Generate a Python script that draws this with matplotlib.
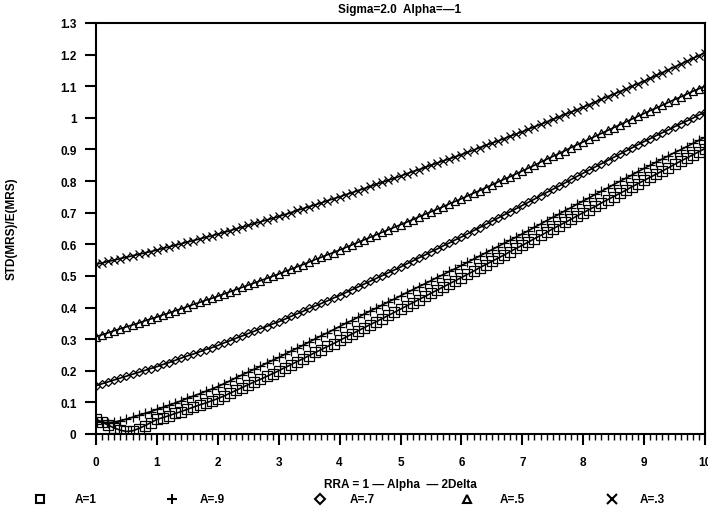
import numpy as np
import matplotlib
matplotlib.use("Agg")
import matplotlib.pyplot as plt
from matplotlib.lines import Line2D
from matplotlib.ticker import MultipleLocator, FuncFormatter

plt.rcParams['font.family'] = ['Liberation Sans', 'DejaVu Sans']

title = "Sigma=2.0  Alpha=\u20141"
xlabel = "RRA = 1 \u2014 Alpha  \u2014 2Delta"
ylabel = "STD(MRS)/E(MRS)"

x = np.round(np.arange(0, 101) * 0.1, 1)

labels = ["A=1", "A=.9", "A=.7", "A=.5", "A=.3"]

a_10 = [0.047, 0.038, 0.028, 0.019, 0.012, 0.008, 0.010, 0.017, 0.026, 0.036,
        0.046, 0.052, 0.058, 0.065, 0.071, 0.078, 0.085, 0.092, 0.098, 0.105,
        0.112, 0.120, 0.129, 0.138, 0.147, 0.156, 0.165, 0.173, 0.182, 0.191,
        0.200, 0.210, 0.219, 0.229, 0.238, 0.248, 0.258, 0.267, 0.277, 0.286,
        0.296, 0.306, 0.316, 0.326, 0.336, 0.346, 0.355, 0.365, 0.375, 0.385,
        0.395, 0.405, 0.415, 0.425, 0.435, 0.445, 0.455, 0.465, 0.475, 0.485,
        0.495, 0.505, 0.515, 0.526, 0.536, 0.546, 0.556, 0.566, 0.577, 0.587,
        0.597, 0.607, 0.618, 0.628, 0.638, 0.649, 0.659, 0.669, 0.679, 0.690,
        0.700, 0.710, 0.720, 0.731, 0.741, 0.751, 0.761, 0.771, 0.782, 0.792,
        0.802, 0.812, 0.822, 0.832, 0.842, 0.853, 0.863, 0.873, 0.883, 0.893, 0.903]

a_09 = [0.040, 0.037, 0.036, 0.038, 0.042, 0.047, 0.053, 0.059, 0.065, 0.071,
        0.078, 0.084, 0.091, 0.098, 0.105, 0.113, 0.120, 0.127, 0.135, 0.142,
        0.150, 0.159, 0.168, 0.178, 0.187, 0.196, 0.205, 0.214, 0.224, 0.233,
        0.242, 0.252, 0.262, 0.271, 0.281, 0.291, 0.301, 0.311, 0.320, 0.330,
        0.340, 0.350, 0.359, 0.369, 0.379, 0.389, 0.398, 0.408, 0.418, 0.427,
        0.437, 0.447, 0.456, 0.466, 0.475, 0.485, 0.495, 0.504, 0.514, 0.523,
        0.533, 0.543, 0.553, 0.563, 0.573, 0.583, 0.593, 0.603, 0.613, 0.623,
        0.633, 0.643, 0.654, 0.664, 0.675, 0.685, 0.695, 0.706, 0.716, 0.727,
        0.737, 0.747, 0.758, 0.768, 0.778, 0.789, 0.799, 0.809, 0.819, 0.830,
        0.840, 0.850, 0.860, 0.870, 0.880, 0.890, 0.899, 0.909, 0.919, 0.929, 0.939]

a_07 = [0.153, 0.159, 0.165, 0.171, 0.177, 0.183, 0.189, 0.195, 0.201, 0.207,
        0.213, 0.220, 0.226, 0.233, 0.240, 0.247, 0.253, 0.260, 0.267, 0.273,
        0.280, 0.288, 0.295, 0.303, 0.310, 0.318, 0.325, 0.333, 0.340, 0.348,
        0.355, 0.363, 0.372, 0.380, 0.388, 0.397, 0.405, 0.413, 0.421, 0.430,
        0.438, 0.447, 0.456, 0.465, 0.474, 0.483, 0.492, 0.501, 0.510, 0.519,
        0.528, 0.538, 0.547, 0.557, 0.566, 0.576, 0.585, 0.595, 0.604, 0.614,
        0.623, 0.633, 0.643, 0.653, 0.663, 0.673, 0.683, 0.693, 0.703, 0.713,
        0.723, 0.733, 0.743, 0.754, 0.764, 0.774, 0.784, 0.794, 0.805, 0.815,
        0.825, 0.835, 0.845, 0.855, 0.865, 0.875, 0.885, 0.895, 0.905, 0.915,
        0.925, 0.934, 0.944, 0.953, 0.962, 0.972, 0.981, 0.990, 0.999, 1.009, 1.018]

a_05 = [0.308, 0.314, 0.320, 0.327, 0.333, 0.339, 0.345, 0.351, 0.358, 0.364,
        0.370, 0.377, 0.383, 0.390, 0.396, 0.403, 0.410, 0.416, 0.423, 0.429,
        0.436, 0.443, 0.450, 0.457, 0.464, 0.471, 0.478, 0.485, 0.492, 0.499,
        0.506, 0.514, 0.521, 0.529, 0.536, 0.544, 0.552, 0.559, 0.567, 0.574,
        0.582, 0.590, 0.598, 0.606, 0.614, 0.622, 0.630, 0.638, 0.646, 0.654,
        0.662, 0.670, 0.678, 0.687, 0.695, 0.703, 0.711, 0.719, 0.728, 0.736,
        0.744, 0.753, 0.762, 0.770, 0.779, 0.788, 0.797, 0.806, 0.814, 0.823,
        0.832, 0.841, 0.850, 0.860, 0.869, 0.878, 0.887, 0.896, 0.906, 0.915,
        0.924, 0.933, 0.942, 0.951, 0.960, 0.969, 0.978, 0.987, 0.996, 1.005,
        1.014, 1.023, 1.031, 1.040, 1.049, 1.058, 1.066, 1.075, 1.084, 1.092, 1.101]

a_03 = [0.537, 0.541, 0.546, 0.550, 0.555, 0.559, 0.564, 0.568, 0.573, 0.577,
        0.582, 0.587, 0.592, 0.597, 0.602, 0.607, 0.612, 0.617, 0.622, 0.627,
        0.632, 0.638, 0.643, 0.649, 0.654, 0.660, 0.666, 0.671, 0.677, 0.682,
        0.688, 0.694, 0.700, 0.707, 0.713, 0.719, 0.725, 0.731, 0.738, 0.744,
        0.750, 0.757, 0.763, 0.770, 0.776, 0.783, 0.790, 0.796, 0.803, 0.809,
        0.816, 0.823, 0.830, 0.836, 0.843, 0.850, 0.857, 0.864, 0.870, 0.877,
        0.884, 0.891, 0.898, 0.906, 0.913, 0.920, 0.927, 0.934, 0.942, 0.949,
        0.956, 0.964, 0.972, 0.979, 0.987, 0.995, 1.003, 1.011, 1.018, 1.026,
        1.034, 1.042, 1.050, 1.059, 1.067, 1.075, 1.083, 1.091, 1.100, 1.108,
        1.116, 1.125, 1.134, 1.143, 1.152, 1.161, 1.170, 1.179, 1.188, 1.197, 1.206]

series = [a_10, a_09, a_07, a_05, a_03]
markers = ['s', '+', 'D', '^', 'x']
msizes = [6.8, 6.5, 3.8, 6.2, 6.0]

fig = plt.figure(figsize=(7.08, 5.10), dpi=100)
ax = fig.add_axes([96/708, 1-435/510, (705-96)/708, (435-24)/510])

for ys, m, ms in zip(series, markers, msizes):
    ax.plot(x, ys, color='black', lw=1.2, marker=m, ms=ms, mfc='none',
            mec='black', mew=0.9)

ax.set_xlim(0, 10)
ax.set_ylim(0, 1.3)
ax.xaxis.set_major_locator(MultipleLocator(1))
ax.xaxis.set_minor_locator(MultipleLocator(0.1))
ax.yaxis.set_major_locator(MultipleLocator(0.1))
ax.yaxis.set_major_formatter(FuncFormatter(lambda v, p: f"{v:.1f}".rstrip('0').rstrip('.') if abs(v) > 1e-9 else "0"))
ax.tick_params(axis='both', which='major', direction='out', length=8, width=1.5,
               labelsize=8.5, pad=6)
ax.tick_params(axis='x', which='minor', direction='out', length=4, width=1.0)
ax.tick_params(axis='x', which='major', pad=8)
for lab in ax.get_xticklabels() + ax.get_yticklabels():
    lab.set_fontweight('bold')
for sp in ax.spines.values():
    sp.set_linewidth(1.5)

fig.text(400/708, 1-10/510, title, ha='center', va='center', fontsize=8.5, fontweight='bold')
fig.text(400/708, 1-485/510, xlabel, ha='center', va='center', fontsize=8.5, fontweight='bold')
fig.text(12/708, 1-229/510, ylabel, ha='center', va='center', rotation=90, fontsize=8.5, fontweight='bold')

leg_markers = ['s', '+', 'D', '^', 'x']
leg_ms = [6, 7, 5, 6, 7]
marker_x = [40, 172, 320, 467, 612]
text_x = [75, 200, 350, 500, 640]
for mx, tx, m, ms, lab in zip(marker_x, text_x, leg_markers, leg_ms, labels):
    fig.add_artist(Line2D([mx/708], [1-500/510], transform=fig.transFigure,
                          marker=m, ms=ms, mfc='none', mec='black', mew=1.5,
                          linestyle='none'))
    fig.text(tx/708, 1-500/510, lab, ha='left', va='center', fontsize=8.5, fontweight='bold')

fig.savefig("out.png", dpi=100)
